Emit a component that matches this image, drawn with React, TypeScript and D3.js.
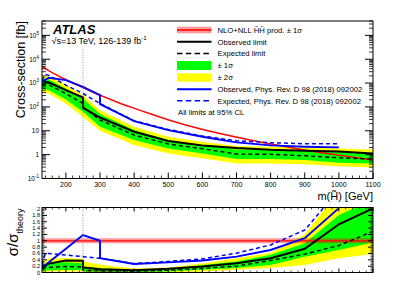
import React from 'react';
import * as d3 from 'd3';

// higgsino mass points (GeV)
const massPoints = [130, 150, 200, 250, 300, 400, 500, 600, 700, 800, 900, 1000, 1100];
// expected limit bands, cross-section in fb
const yellowUp = [2140, 1945, 899, 311, 73, 14.8, 5.6, 3.48, 2.29, 2.15, 2.01, 1.83, 1.66];
const greenUp = [1553, 1410, 593, 226, 50, 10.7, 4.08, 2.52, 1.66, 1.56, 1.46, 1.28, 1.13];
const greenDn = [593, 505, 205, 62.5, 14.8, 4.08, 1.83, 1.13, 0.65, 0.65, 0.59, 0.46, 0.43];
const yellowDn = [430, 366, 140, 38.6, 10, 2.52, 1.13, 0.7, 0.43, 0.43, 0.4, 0.33, 0.29];

// limits (250 appears twice: the two analyses meet there)
const limitMass = [130, 150, 200, 250, 250, 300, 400, 500, 600, 700, 800, 900, 1000, 1100];
const obsLimit = [1240, 1050, 505, 249, 92, 36, 9.1, 3.7, 2.44, 1.9, 1.6, 1.46, 1.37, 1.13];
const expLimit = [890, 840, 365, 140, 100, 28, 6.6, 2.8, 1.77, 1.06, 1.03, 0.9, 0.74, 0.65];

// theory
const theoryMass = [130, 150, 200, 250, 300, 350, 400, 450, 500, 600, 700, 800, 900, 1000, 1100];
const theoryXsec = [5000, 3300, 1400, 650, 310, 160, 88, 50, 29, 11.5, 5.4, 2.8, 1.55, 0.95, 0.6];
const theoryRelUnc = [0.08, 0.08, 0.08, 0.08, 0.08, 0.08, 0.08, 0.08, 0.08, 0.08, 0.08, 0.08, 0.08, 0.08, 0.08];

// previous result, Phys. Rev. D 98 (2018) 092002
const prevObsMass = [130, 150, 200, 250, 300, 300, 400, 500, 600, 700, 800, 900, 1000];
const prevObs = [1164, 1656, 1322, 695, 312, 131, 25.5, 10.7, 5.6, 3.26, 2.44, 2.15, 2.01];
const prevExpMass = [130, 140, 150, 200, 250, 300, 400, 500, 600, 700, 800, 900, 1000];
const prevExp = [1300, 2300, 2100, 815, 365, 140, 26, 11.4, 6.0, 3.83, 3.16, 2.87, 2.87];

// ratio panel (sigma / sigma_theory)
const ratioBandMass = [130, 150, 200, 250, 250, 300, 400, 500, 600, 700, 800, 900, 1000, 1100];
const ratioYellowUp = [0.3, 0.45, 0.45, 0.43, 0.35, 0.25, 0.13, 0.16, 0.28, 0.45, 0.62, 1.2, 2.6, 3.2];
const ratioGreenUp = [0.2, 0.3, 0.32, 0.29, 0.2, 0.14, 0.08, 0.1, 0.24, 0.35, 0.56, 0.92, 1.81, 2.3];
const ratioGreenDn = [0.05, 0.07, 0.08, 0.08, 0.04, 0.03, 0.02, 0.03, 0.085, 0.14, 0.24, 0.5, 0.71, 0.95];
const ratioYellowDn = [0.02, 0.03, 0.03, 0.03, 0.01, 0.01, 0.005, 0.01, 0.03, 0.085, 0.14, 0.24, 0.45, 0.58];
const ratioExp = [0.136, 0.16, 0.19, 0.17, 0.06, 0.05, 0.04, 0.07, 0.13, 0.2, 0.38, 0.58, 0.85, 1.3];
const ratioObs = [0.19, 0.28, 0.38, 0.37, 0.157, 0.105, 0.073, 0.115, 0.19, 0.29, 0.45, 0.75, 1.52, 2.02];
const ratioPrevObsMass = [130, 150, 200, 250, 300, 300, 400, 500, 600, 700, 800, 900, 1000];
const ratioPrevObs = [0.15, 0.32, 0.75, 1.18, 1.0, 0.45, 0.27, 0.32, 0.38, 0.5, 0.71, 1.08, 2.03];
const ratioPrevExpMass = [130, 140, 150, 200, 250, 300, 400, 500, 600, 700, 800, 900, 950, 1000];
const ratioPrevExp = [0.25, 0.6, 0.6, 0.55, 0.5, 0.45, 0.28, 0.35, 0.43, 0.61, 0.87, 1.34, 1.97, 2.9];

const xTickLabels = ['200', '300', '400', '500', '600', '700', '800', '900', '1000', '1100'];
const ratioTickLabels = ['0', '0.2', '0.4', '0.6', '0.8', '1', '1.2', '1.4', '1.6', '1.8', '2'];
const cutMass = 250;

const FONT = 'Liberation Sans, Arial, Helvetica, sans-serif';
const X0 = 42, X1 = 373;
const TY0 = 21, TY1 = 178.5;
const BY0 = 207.5, BY1 = 272.5;

const x = d3.scaleLinear().domain([130, 1100]).range([X0, X1]);
const yTop = d3.scaleLog().domain([0.1, 4e5]).range([TY1, TY0]);
const yBot = d3.scaleLinear().domain([0, 2.05]).range([BY1, BY0]);

const topLine = (ms: number[], vs: number[], curve: any = d3.curveLinear) =>
  d3.line<number>().x((_, i) => x(ms[i])).y(d => yTop(d)).curve(curve)(vs) || '';
const topArea = (ms: number[], lo: number[], hi: number[]) =>
  d3.area<number>().x((_, i) => x(ms[i])).y0((_, i) => yTop(lo[i])).y1(d => yTop(d))(hi) || '';
const botLine = (ms: number[], vs: number[]) =>
  d3.line<number>().x((_, i) => x(ms[i])).y(d => yBot(d))(vs) || '';
const botArea = (ms: number[], lo: number[], hi: number[]) =>
  d3.area<number>().x((_, i) => x(ms[i])).y0((_, i) => yBot(lo[i])).y1(d => yBot(d))(hi) || '';

const BLUE = '#0000ff';
const GREEN = '#00ff00';
const YELLOW = '#ffff00';
const RED = '#ff0000';

const App = () => {
  const xMajor = xTickLabels.map(Number);
  const xMinor = d3.range(140, 1101, 20).filter(v => v % 100 !== 0);
  const logMajor = d3.range(-1, 6).map(e => Math.pow(10, e));
  const logMinor: number[] = [];
  d3.range(-1, 6).forEach(e => {
    for (let k = 2; k <= 9; k++) {
      const v = k * Math.pow(10, e);
      if (v <= 4e5) logMinor.push(v);
    }
  });
  const rMajor = ratioTickLabels.map(Number);
  const rMinor = d3.range(0, 2.051, 0.05).filter(v => Math.abs(v * 5 - Math.round(v * 5)) > 0.01);

  const theoryLo = theoryXsec.map((v, i) => v * (1 - theoryRelUnc[i]));
  const theoryHi = theoryXsec.map((v, i) => v * (1 + theoryRelUnc[i]));
  const ratioTheoryLo = theoryRelUnc.map(u => 1 - u);
  const ratioTheoryHi = theoryRelUnc.map(u => 1 + u);

  const logLabel = (v: number) => {
    const e = Math.round(Math.log10(v));
    if (e === 0) return <tspan>1</tspan>;
    if (e === 1) return <tspan>10</tspan>;
    return (
      <>
        <tspan>10</tspan>
        <tspan dy={-3} fontSize={4.6}>{e}</tspan>
      </>
    );
  };

  const legendRows = [
    'NLO+NLL H\u0303H\u0303 prod. \u00b1 1\u03c3',
    'Observed limit',
    'Expected limit',
    '\u00b1 1\u03c3',
    '\u00b1 2\u03c3',
    'Observed, Phys. Rev. D 98 (2018) 092002',
    'Expected, Phys. Rev. D 98 (2018) 092002',
  ];
  const legY = [30, 41.8, 53.5, 65.5, 77.5, 89.2, 100.8];
  const LX0 = 177, LX1 = 211.5;

  return (
    <div style={{ position: 'absolute', left: 0, top: 0 }}>
      <svg width={415} height={303} style={{ display: 'block', background: '#fff' }} fontFamily={FONT}>
        <defs>
          <clipPath id="clipTop"><rect x={X0} y={TY0} width={X1 - X0} height={TY1 - TY0} /></clipPath>
          <clipPath id="clipBot"><rect x={X0} y={BY0} width={X1 - X0} height={BY1 - BY0} /></clipPath>
        </defs>

        {/* top panel */}
        <g clipPath="url(#clipTop)">
          <path d={topArea(massPoints, yellowDn, yellowUp)} fill={YELLOW} />
          <path d={topArea(massPoints, greenDn, greenUp)} fill={GREEN} />
          <path d={d3.area<number>().x((_, i) => x(theoryMass[i])).y0((_, i) => yTop(theoryLo[i])).y1(d => yTop(d)).curve(d3.curveMonotoneX)(theoryHi) || ''} fill={RED} fillOpacity={0.4} />
          <path d={topLine(theoryMass, theoryXsec, d3.curveMonotoneX)} fill="none" stroke={RED} strokeWidth={1.3} />
          <path d={topLine(limitMass, expLimit)} fill="none" stroke="#000" strokeWidth={1.4} strokeDasharray="4,3" />
          <path d={topLine(limitMass, obsLimit)} fill="none" stroke="#000" strokeWidth={2} />
          <path d={topLine(prevExpMass, prevExp)} fill="none" stroke={BLUE} strokeWidth={1.5} strokeDasharray="4,3" />
          <path d={topLine(prevObsMass, prevObs)} fill="none" stroke={BLUE} strokeWidth={1.9} />
        </g>
        <line x1={x(cutMass)} x2={x(cutMass)} y1={yTop(2.5e4)} y2={TY1} stroke="#777" strokeWidth={0.8} strokeDasharray="1,1.5" />

        {/* top frame + ticks */}
        <rect x={X0} y={TY0} width={X1 - X0} height={TY1 - TY0} fill="none" stroke="#000" strokeWidth={1} />
        {logMajor.map(v => (
          <g key={'lm' + v}>
            <line x1={X0} x2={X0 + 8} y1={yTop(v)} y2={yTop(v)} stroke="#000" />
            <line x1={X1} x2={X1 - 8} y1={yTop(v)} y2={yTop(v)} stroke="#000" />
            <text x={39} y={yTop(v) + 2.3} fontSize={6.5} textAnchor="end">{logLabel(v)}</text>
          </g>
        ))}
        {logMinor.map(v => (
          <g key={'ln' + v}>
            <line x1={X0} x2={X0 + 4} y1={yTop(v)} y2={yTop(v)} stroke="#000" strokeWidth={0.8} />
            <line x1={X1} x2={X1 - 4} y1={yTop(v)} y2={yTop(v)} stroke="#000" strokeWidth={0.8} />
          </g>
        ))}
        {xMajor.map((v, i) => (
          <g key={'xm' + v}>
            <line x1={x(v)} x2={x(v)} y1={TY1} y2={TY1 - 6} stroke="#000" />
            <text x={x(v)} y={187} fontSize={7} textAnchor="middle">{xTickLabels[i]}</text>
          </g>
        ))}
        {xMinor.map(v => (
          <line key={'xn' + v} x1={x(v)} x2={x(v)} y1={TY1} y2={TY1 - 3} stroke="#000" strokeWidth={0.8} />
        ))}

        <text transform={`translate(25,${TY0}) rotate(-90)`} fontSize={12.5} textAnchor="end">Cross-section [fb]</text>
        <text x={X1} y={199.5} fontSize={11} textAnchor="end">{'m(H\u0303) [GeV]'}</text>

        <text x={53} y={33.5} fontSize={13} fontWeight="bold" fontStyle="italic">ATLAS</text>
        <text x={51.5} y={43.5} fontSize={9}>
          {'\u221as=13 TeV, 126-139 fb'}
          <tspan dy={-3.5} fontSize={6}>-1</tspan>
        </text>

        {/* legend */}
        <rect x={LX0} y={legY[0] - 3.3} width={LX1 - LX0} height={6.6} fill={RED} fillOpacity={0.4} />
        <line x1={LX0} x2={LX1} y1={legY[0]} y2={legY[0]} stroke={RED} strokeWidth={1.3} />
        <line x1={LX0} x2={LX1} y1={legY[1]} y2={legY[1]} stroke="#000" strokeWidth={2} />
        <line x1={LX0} x2={LX1} y1={legY[2]} y2={legY[2]} stroke="#000" strokeWidth={1.4} strokeDasharray="5.5,3.3" />
        <rect x={LX0} y={legY[3] - 4.5} width={LX1 - LX0} height={9} fill={GREEN} />
        <rect x={LX0} y={legY[4] - 4.2} width={LX1 - LX0} height={8.4} fill={YELLOW} />
        <line x1={LX0} x2={LX1} y1={legY[5]} y2={legY[5]} stroke={BLUE} strokeWidth={1.9} />
        <line x1={LX0} x2={LX1} y1={legY[6]} y2={legY[6]} stroke={BLUE} strokeWidth={1.5} strokeDasharray="5.5,3.3" />
        {legendRows.map((t, i) => (
          <text key={t} x={217.5} y={legY[i] + 2.7} fontSize={7.7}>{t}</text>
        ))}
        <text x={178} y={114.7} fontSize={7.7}>All limits at 95% CL</text>

        {/* ratio panel */}
        <g clipPath="url(#clipBot)">
          <path d={botArea(ratioBandMass, ratioYellowDn, ratioYellowUp)} fill={YELLOW} />
          <path d={botArea(ratioBandMass, ratioGreenDn, ratioGreenUp)} fill={GREEN} />
          <path d={botArea(theoryMass, ratioTheoryLo, ratioTheoryHi)} fill={RED} fillOpacity={0.4} />
          <path d={botLine(theoryMass, theoryRelUnc.map(() => 1))} fill="none" stroke={RED} strokeWidth={1.3} />
          <path d={botLine(ratioBandMass, ratioExp)} fill="none" stroke="#000" strokeWidth={1.4} strokeDasharray="4,3" />
          <path d={botLine(ratioBandMass, ratioObs)} fill="none" stroke="#000" strokeWidth={2} />
          <path d={botLine(ratioPrevExpMass, ratioPrevExp)} fill="none" stroke={BLUE} strokeWidth={1.5} strokeDasharray="4,3" />
          <path d={botLine(ratioPrevObsMass, ratioPrevObs)} fill="none" stroke={BLUE} strokeWidth={1.9} />
        </g>
        <line x1={x(cutMass)} x2={x(cutMass)} y1={BY0} y2={BY1} stroke="#777" strokeWidth={0.8} strokeDasharray="1,1.5" />
        <rect x={X0} y={BY0} width={X1 - X0} height={BY1 - BY0} fill="none" stroke="#000" strokeWidth={1} />
        {rMajor.map((v, i) => (
          <g key={'rm' + v}>
            <line x1={X0} x2={X0 + 5} y1={yBot(v)} y2={yBot(v)} stroke="#000" />
            <line x1={X1} x2={X1 - 5} y1={yBot(v)} y2={yBot(v)} stroke="#000" />
            <text x={40} y={yBot(v) + 2} fontSize={5.6} textAnchor="end">{ratioTickLabels[i]}</text>
          </g>
        ))}
        {rMinor.map(v => (
          <g key={'rn' + v}>
            <line x1={X0} x2={X0 + 2.5} y1={yBot(v)} y2={yBot(v)} stroke="#000" strokeWidth={0.7} />
            <line x1={X1} x2={X1 - 2.5} y1={yBot(v)} y2={yBot(v)} stroke="#000" strokeWidth={0.7} />
          </g>
        ))}
        {xMajor.map(v => (
          <g key={'bxm' + v}>
            <line x1={x(v)} x2={x(v)} y1={BY1} y2={BY1 - 4} stroke="#000" />
            <line x1={x(v)} x2={x(v)} y1={BY0} y2={BY0 + 4} stroke="#000" />
          </g>
        ))}
        {xMinor.map(v => (
          <g key={'bxn' + v}>
            <line x1={x(v)} x2={x(v)} y1={BY1} y2={BY1 - 2} stroke="#000" strokeWidth={0.7} />
            <line x1={x(v)} x2={x(v)} y1={BY0} y2={BY0 + 2} stroke="#000" strokeWidth={0.7} />
          </g>
        ))}
        <text transform={`translate(18,${BY0 + 1}) rotate(-90)`} textAnchor="end">
          <tspan fontSize={15}>{'\u03c3/\u03c3'}</tspan>
          <tspan fontSize={9} dy={5}>theory</tspan>
        </text>
      </svg>
    </div>
  );
};

export default App;
